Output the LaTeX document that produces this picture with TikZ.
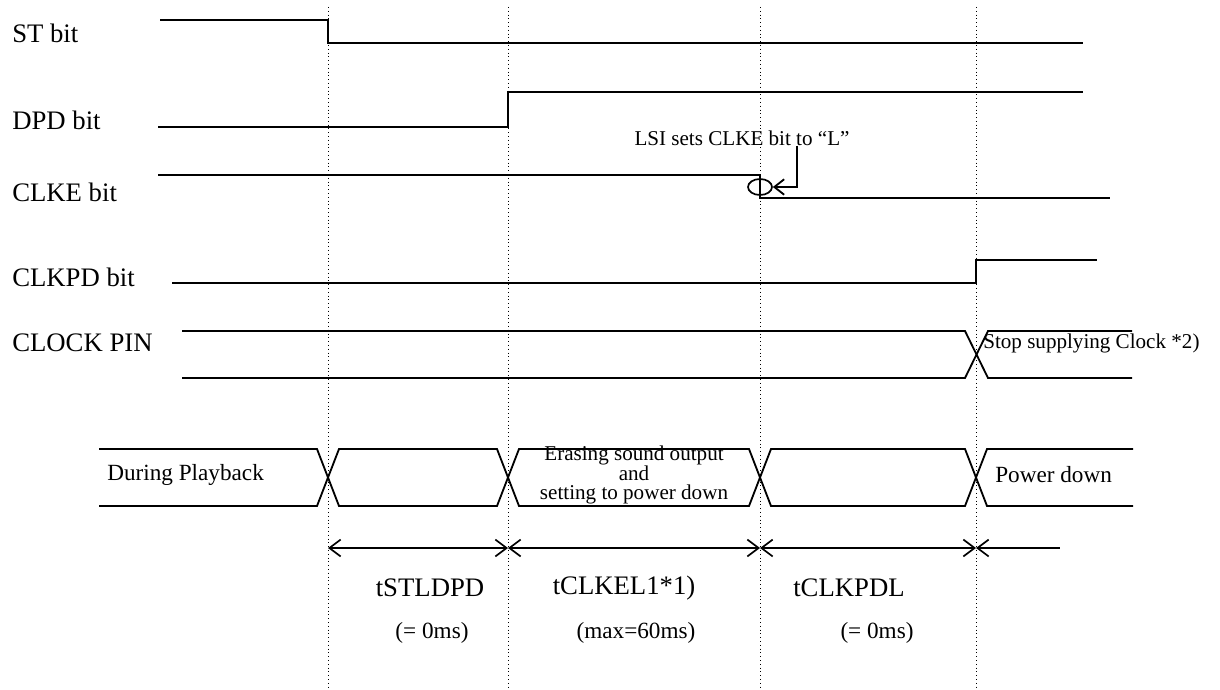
\documentclass[tikz,border=0pt]{standalone}
\usepackage{fontspec}
\setmainfont{Liberation Serif}
\usetikzlibrary{arrows.meta,shapes.geometric}

\begin{document}
\begin{tikzpicture}[
    x=0.025cm, y=-0.025cm,
    sig/.style={line width=1.3pt},
    tmark/.style={dotted, line width=0.7pt},
    signame/.style={anchor=west, inner sep=0pt, font=\fontsize{19}{22}\selectfont},
    buslabel/.style={anchor=west, inner sep=0pt, font=\fontsize{16.5}{19}\selectfont},
    note/.style={inner sep=0pt, font=\fontsize{15}{13.5}\selectfont, align=center},
    tlabel/.style={inner sep=0pt, font=\fontsize{19}{22}\selectfont},
    tval/.style={inner sep=0pt, font=\fontsize{16.5}{19}\selectfont},
    span/.style={line width=1.2pt, {Straight Barb[length=8pt,width=12pt]}-{Straight Barb[length=8pt,width=12pt]}},
    pointer/.style={line width=1.3pt, -{Straight Barb[length=7pt,width=11pt]}}
]
    \useasboundingbox (0,0) rectangle (1220,689);

    % time marks
    \foreach \x in {328,508,760,976}
        \draw[tmark] (\x,7) -- (\x,689);

    % signal names
    \node[signame] (st)    at (12,33)  {ST bit};
    \node[signame] (dpd)   at (12,120) {DPD bit};
    \node[signame] (clke)  at (12,192) {CLKE bit};
    \node[signame] (clkpd) at (12,277) {CLKPD bit};
    \node[signame] (pin)   at (12,343) {CLOCK PIN};

    % bit waveforms
    \draw[sig] (160,20) -- (328,20) -- (328,43) -- (1083,43);
    \draw[sig] (158,127) -- (508,127) -- (508,92) -- (1083,92);
    \draw[sig] (158,175) -- (760,175) -- (760,198) -- (1110,198);
    \draw[sig] (172,283) -- (976,283) -- (976,260) -- (1097,260);

    % CLKE note
    \node[draw, ellipse, line width=1.2pt, minimum width=0.6cm, minimum height=0.4cm, inner sep=0pt] (mark) at (760,187) {};
    \node[note] (lsi) at (742,138) {LSI sets CLKE bit to “L”};
    \coordinate (bend) at (797,187);
    \draw[pointer] (lsi.south -| bend) -- (bend) -- (mark.east);

    % clock pin
    \draw[sig] (182,331) -- (965,331) -- (988,378) -- (1132,378);
    \draw[sig] (182,378) -- (965,378) -- (988,331) -- (1132,331);
    \node[note, anchor=west] (stop) at (983,343) {Stop supplying Clock *2)};

    % state bus
    \draw[sig] (99,449) -- (317,449) -- (328,477.5) -- (317,506) -- (99,506);
    \foreach \a/\b in {328/508,508/760,760/976}
        \draw[sig] (\a,477.5) -- (\a+11,449) -- (\b-11,449) -- (\b,477.5)
            -- (\b-11,506) -- (\a+11,506) -- cycle;
    \draw[sig] (1133,449) -- (987,449) -- (976,477.5) -- (987,506) -- (1133,506);
    \node[buslabel] (play) at (107,475) {During Playback};
    \node[note] (erase) at (634,475) {Erasing sound output\\and\\setting to power down};
    \node[buslabel] (down) at (995,475) {Power down};

    % intervals
    \coordinate (m1) at (328,548);
    \coordinate (m2) at (508,548);
    \coordinate (m3) at (760,548);
    \coordinate (m4) at (976,548);
    \coordinate (m5) at (1060,548);
    \draw[span] (m1) -- (m2);
    \draw[span] (m2) -- (m3);
    \draw[span] (m3) -- (m4);
    \draw[line width=1.2pt, {Straight Barb[length=8pt,width=12pt]}-] (m4) -- (m5);

    \node[tlabel] (t1) at (430,588) {tSTLDPD};
    \node[tlabel] (t2) at (624,588) {tCLKEL1*1)};
    \node[tlabel, anchor=west] (t3) at (793,588) {tCLKPDL};
    \node[tval] (v1) at (432,633) {(= 0ms)};
    \node[tval] (v2) at (636,633) {(max=60ms)};
    \node[tval] (v3) at (877,633) {(= 0ms)};
\end{tikzpicture}
\end{document}
